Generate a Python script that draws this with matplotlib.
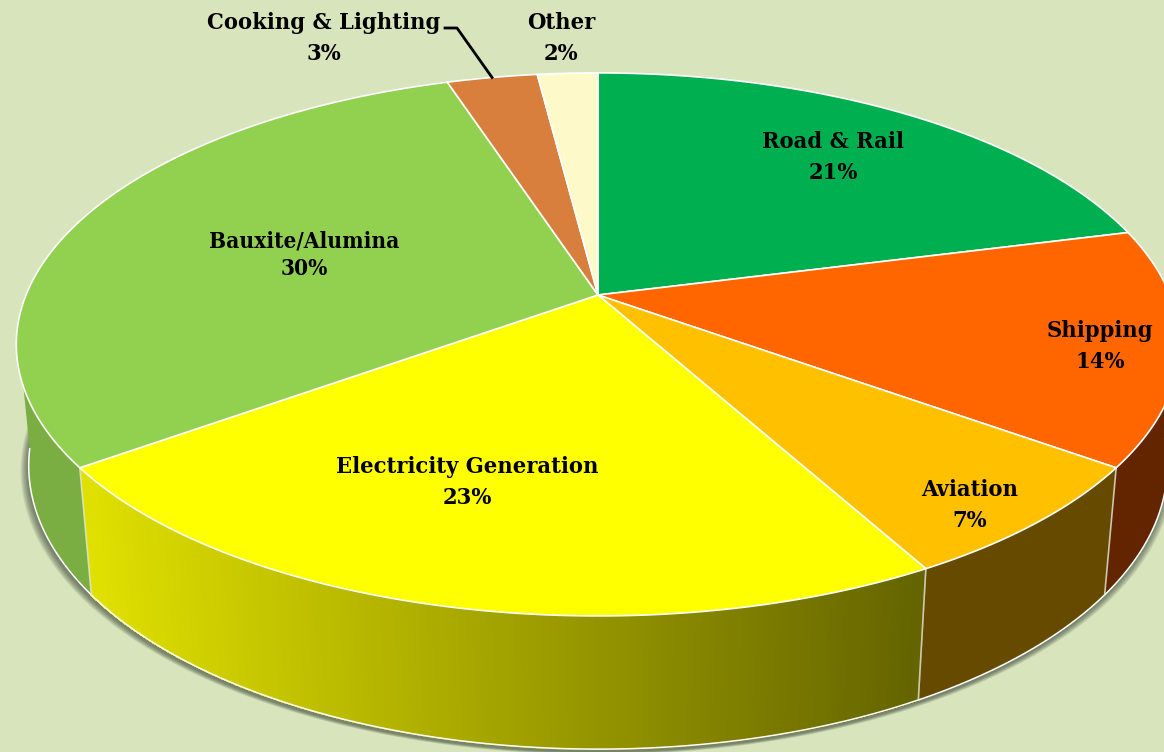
import numpy as np
import matplotlib.pyplot as plt
from matplotlib.collections import PolyCollection
from matplotlib.patches import Polygon

categories = ['Road & Rail', 'Shipping', 'Aviation', 'Electricity Generation',
              'Bauxite/Alumina', 'Cooking & Lighting', 'Other']
shares = [21, 14, 7, 23, 30, 3, 2]

top_colors = ['#00B050', '#FF6600', '#FFC000', '#FFFF00', '#92D050', '#D97F3E', '#FEF9C9']
side_colors = ['#007038', '#632500', '#664A00', None, '#7AAD42', '#8A5028', '#A09D7E']

label_x = [833, 1100, 970, 467, 304, 324, 561]
label_y = [142, 331, 490, 467, 241, 23, 23]
label_gap = [31, 31, 31, 31, 28, 31, 31]
label_size = [16.9, 16.9, 16.9, 16.9, 16.2, 16.9, 16.9]

BG = '#D8E4BC'
FONT = 'DejaVu Serif'
VISIBLE = (np.radians(95), np.radians(263))


def top_ring(t):
    # t = clockwise angle from 12 o'clock, perspective squashed circle
    X, Y = np.sin(t), np.cos(t)
    w = 1 + 0.182 * Y
    return 598 + 572 * X / w, 295 - 262.5 * Y / w


def low_ring(t):
    X, Y = np.sin(t), np.cos(t)
    w = 1 + 0.18 * Y
    return 598 + 560 * X / w, 414.5 - 274.4 * Y / w


def yellow_shade(x):
    v = np.clip(225 - 0.15 * (x - 85), 0, 255) / 255
    return (v, v, 0)


fig = plt.figure(figsize=(11.64, 7.52), dpi=100, facecolor=BG)
ax = fig.add_axes([0, 0, 1, 1])
ax.set_xlim(0, 1164)
ax.set_ylim(752, 0)
ax.axis('off')

edges = np.cumsum([0] + shares) / sum(shares) * 2 * np.pi

# soft shadow under the lower rim
full = np.linspace(0, 2 * np.pi, 400)
lx, ly = low_ring(full)
for r in np.linspace(7, 0, 10):
    sx = 597 + (lx - 598) * (1 + r / 560)
    sy = ly + 3 + r * 0.35
    ax.add_patch(Polygon(np.c_[sx, sy], closed=True, fc='#3F4A3A', ec='none', alpha=0.09, zorder=1))

# side walls, only the part facing the viewer
for i in range(len(shares)):
    a, b = max(edges[i], VISIBLE[0]), min(edges[i + 1], VISIBLE[1])
    if a >= b:
        continue
    n = max(int((b - a) * 200), 2)
    t = np.linspace(a, b, n + 1)
    tx, ty = top_ring(t)
    bx, by = low_ring(t)
    if side_colors[i] is None:
        # thin strips so that the yellow wall can carry a gradient
        polys = [[(tx[j], ty[j]), (tx[j + 1], ty[j + 1]), (bx[j + 1], by[j + 1]), (bx[j], by[j])] for j in range(n)]
        cols = [yellow_shade((tx[j] + bx[j]) / 2) for j in range(n)]
        ax.add_collection(PolyCollection(polys, facecolors=cols, edgecolors=cols, linewidths=0.8,
                                         antialiaseds=False, zorder=2))
    else:
        pts = np.r_[np.c_[tx, ty], np.c_[bx, by][::-1]]
        ax.add_patch(Polygon(pts, closed=True, fc=side_colors[i], ec='none', zorder=2))

# white rim only where the lower edge is really the outline of the disc
rim = np.linspace(VISIBLE[0], VISIBLE[1], 300)
bx, by = low_ring(rim)
ax.plot(bx, by, color='white', lw=1.1, zorder=3)

# seams between the visible walls
for e in edges[1:5]:
    if VISIBLE[0] < e < VISIBLE[1]:
        tx, ty = top_ring(e)
        bx, by = low_ring(e)
        ax.plot([tx, bx], [ty, by], color='#E6E6D8', lw=1.2, alpha=0.8, zorder=3)

# top face
for i in range(len(shares)):
    t = np.linspace(edges[i], edges[i + 1], 120)
    tx, ty = top_ring(t)
    pts = np.r_[[[598, 295]], np.c_[tx, ty]]
    ax.add_patch(Polygon(pts, closed=True, fc=top_colors[i], ec='white', lw=1.2, joinstyle='miter', zorder=4))

# leader for the small slice
mid = (edges[5] + edges[6]) / 2
px, py = top_ring(mid)
ax.plot([445, 457, px], [28, 28, py], color='black', lw=2, zorder=5, solid_joinstyle='miter')

for name, share, x, y, gap, size in zip(categories, shares, label_x, label_y, label_gap, label_size):
    ax.text(x, y, name, ha='center', va='center', family=FONT, stretch='condensed', weight='bold', fontsize=size, color='black', zorder=6)
    ax.text(x, y + gap, '%d%%' % share, ha='center', va='center', family=FONT, stretch='condensed', weight='bold', fontsize=size, color='black', zorder=6)

fig.savefig('out.png', dpi=100, facecolor=BG)
